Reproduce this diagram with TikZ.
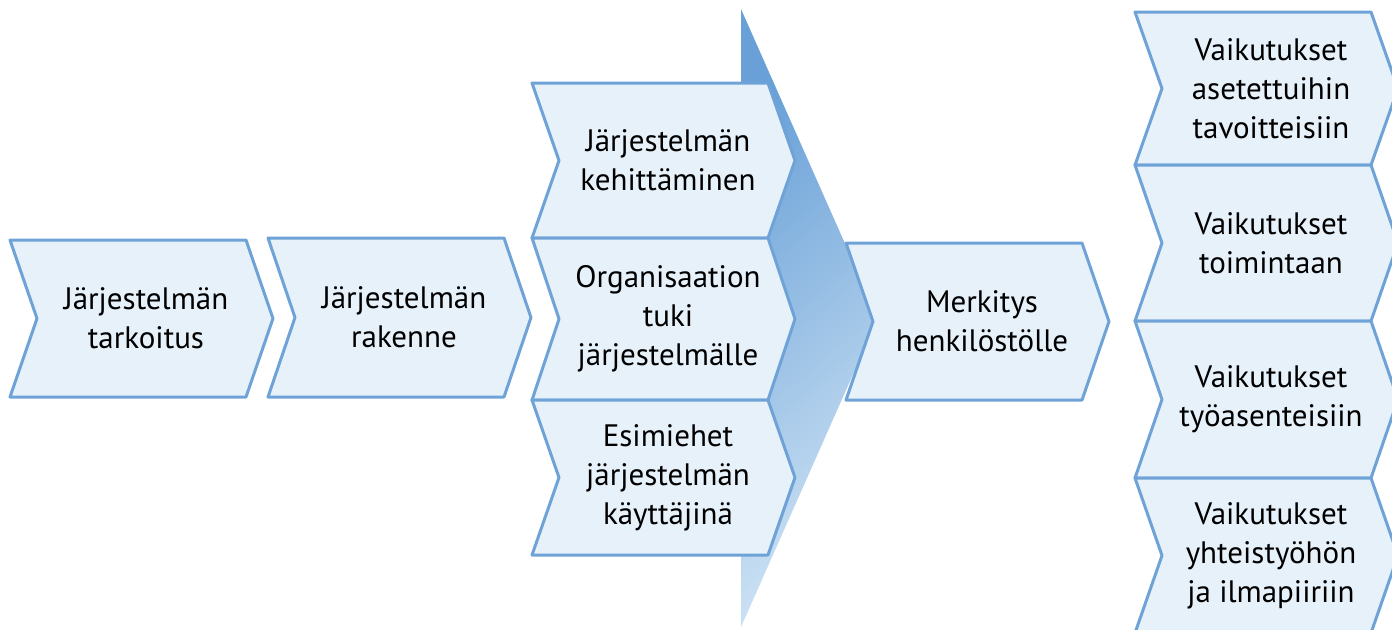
\documentclass[tikz,border=0pt]{standalone}
\usepackage{fontspec}
\setmainfont{PT Sans}
\usepackage{tikz}
\usetikzlibrary{calc}
\definecolor{chevfill}{RGB}{231,241,250}
\definecolor{chevline}{RGB}{111,163,216}
\definecolor{flowdark}{RGB}{104,160,215}
\definecolor{flowlight}{RGB}{205,226,244}
\tikzset{
  chev/.style={draw=chevline,fill=chevfill,line width=1.5pt,line join=round},
  txt/.style={align=center,text=black,font=\fontsize{15.5}{19.5}\selectfont},
  flow/.style={top color=flowdark,bottom color=flowlight,shading angle=40}
}
% chevron: name, left x, top y, height, text (px units)
\newcommand{\chevron}[5]{%
  \draw[chev] (#2,#3) -- ++(236,0) -- ++(27,#4/2) -- ++(-27,#4/2)
    -- ++(-236,0) -- ++(27,-#4/2) -- cycle;
  \node[txt] (#1) at (#2+136,#3+#4/2) {#5};}

\begin{document}
\begin{tikzpicture}[x=0.5pt,y=-0.5pt]
  \clip (0,0) rectangle (1392,629);
  % big arrow behind the middle column
  \coordinate (ftop) at (741,9);
  \coordinate (ftip) at (878,318);
  \coordinate (fbot) at (741,627);
  \shade[flow] (ftop) -- (ftip) -- (fbot) -- cycle;
  % chain
  \chevron{purpose}{10}{240}{157}{Järjestelmän\\tarkoitus}
  \chevron{structure}{268}{238}{159}{Järjestelmän\\rakenne}
  \chevron{develop}{532}{83}{155}{Järjestelmän\\kehittäminen}
  \chevron{support}{532}{238}{162}{Organisaation\\tuki\\järjestelmälle}
  \chevron{managers}{532}{400}{155}{Esimiehet\\järjestelmän\\käyttäjinä}
  \chevron{meaning}{846}{243}{157}{Merkitys\\henkilöstölle}
  % effects
  \chevron{goals}{1135}{12}{153}{Vaikutukset\\asetettuihin\\tavoitteisiin}
  \chevron{operations}{1135}{165}{156}{Vaikutukset\\toimintaan}
  \chevron{attitudes}{1135}{321}{157}{Vaikutukset\\työasenteisiin}
  \chevron{climate}{1135}{478}{155}{Vaikutukset\\yhteistyöhön\\ja ilmapiiriin}
\end{tikzpicture}
\end{document}
